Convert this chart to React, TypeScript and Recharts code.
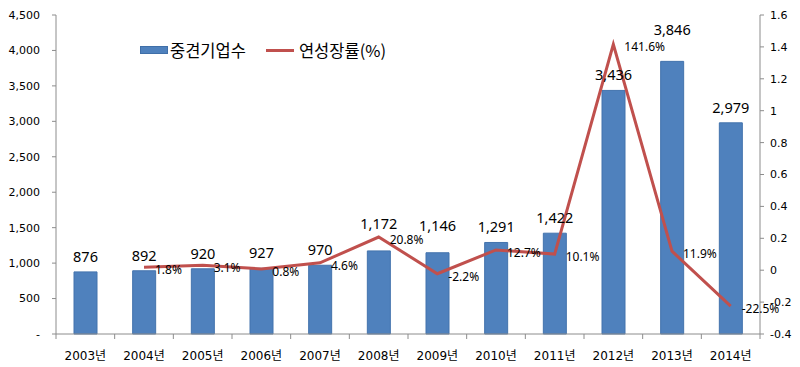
import React from 'react';
import { ComposedChart, Bar, Line, XAxis, YAxis, LabelList } from 'recharts';

const years = ['2003년', '2004년', '2005년', '2006년', '2007년', '2008년', '2009년', '2010년', '2011년', '2012년', '2013년', '2014년'];
const firms = [876, 892, 920, 927, 970, 1172, 1146, 1291, 1422, 3436, 3846, 2979];
const growth = [null, 0.018, 0.031, 0.008, 0.046, 0.208, -0.022, 0.127, 0.101, 1.416, 0.119, -0.225];
const leftTicks = [0, 500, 1000, 1500, 2000, 2500, 3000, 3500, 4000, 4500];
const rightTicks = [-0.4, -0.2, 0, 0.2, 0.4, 0.6, 0.8, 1, 1.2, 1.4, 1.6];

const data = years.map((y, i) => ({ year: y, firms: firms[i], growth: growth[i] }));

// layout
const W = 800;
const H = 367;
const LEFT_W = 56;
const RIGHT_W = 40;
const halfBand = (W - LEFT_W - RIGHT_W) / years.length / 2;
// bar labels that were nudged up in the original to clear the line
const labelLift = [0, 0, 0, 0, 0, 12, 12, 0, 0, 0, 16, 0];

const numFont = '"DejaVu Sans", "Noto Sans CJK KR", sans-serif';
const labelFont = '"Noto Sans", sans-serif';
const axisColor = '#8c8c8c';

function XTick(props: any) {
  const { x, y, payload, index } = props;
  return (
    <g>
      <line x1={x - halfBand} x2={x - halfBand} y1={y - 8} y2={y - 3} stroke={axisColor} />
      {index === years.length - 1 && (
        <line x1={x + halfBand} x2={x + halfBand} y1={y - 8} y2={y - 3} stroke={axisColor} />
      )}
      <text x={x} y={y + 18} textAnchor="middle" fontSize={12} fontFamily={numFont} fill="#000">
        {payload.value}
      </text>
    </g>
  );
}

function BarValueLabel(props: any) {
  const { x, y, width, value, index } = props;
  return (
    <text
      x={x + width / 2}
      y={y - 10 - (labelLift[index] || 0)}
      textAnchor="middle"
      fontSize={14.5}
      fontFamily={labelFont}
      fill="#000"
    >
      {Number(value).toLocaleString('en-US')}
    </text>
  );
}

function GrowthLabel(props: any) {
  const { x, y, value } = props;
  if (value == null) return null;
  return (
    <text x={x + 11} y={y + 7} fontSize={12} fontFamily={labelFont} fill="#000">
      {(value * 100).toFixed(1)}%
    </text>
  );
}

function LegendBox() {
  return (
    <div
      style={{
        position: 'absolute',
        left: 140,
        top: 39,
        display: 'flex',
        alignItems: 'center',
        fontFamily: '"Noto Sans CJK KR", sans-serif',
        fontSize: 16.5,
        lineHeight: '22px',
        color: '#000',
      }}
    >
      <span style={{ display: 'inline-block', width: 28, height: 8, background: '#4F81BD', border: '1px solid #3f6fa8', boxSizing: 'border-box', marginRight: 2 }} />
      <span>중견기업수</span>
      <span style={{ display: 'inline-block', width: 28, height: 3, background: '#C0504D', marginLeft: 20, marginRight: 5 }} />
      <span>연성장률(%)</span>
    </div>
  );
}

export default function App() {
  return (
    <div style={{ position: 'absolute', left: 0, top: 0, width: W, height: H, background: '#fff' }}>
      <ComposedChart width={W} height={H} data={data} margin={{ top: 15, right: 0, left: 0, bottom: 0 }}>
        <XAxis
          dataKey="year"
          height={33}
          tick={<XTick />}
          tickLine={false}
          stroke={axisColor}
          interval={0}
        />
        <YAxis
          yAxisId="left"
          width={LEFT_W}
          domain={[0, 4500]}
          ticks={leftTicks}
          tickSize={4}
          tickMargin={12}
          stroke={axisColor}
          tick={{ fill: '#000', fontSize: 11, fontFamily: numFont }}
          tickFormatter={(v: number) => (v === 0 ? '-' : v.toLocaleString('en-US'))}
        />
        <YAxis
          yAxisId="right"
          orientation="right"
          width={RIGHT_W}
          domain={[-0.4, 1.6]}
          ticks={rightTicks}
          tickSize={4}
          tickMargin={6}
          stroke={axisColor}
          tick={{ fill: '#000', fontSize: 11, fontFamily: numFont }}
          tickFormatter={(v: number) => String(Number(v.toFixed(1)))}
        />
        <Bar yAxisId="left" dataKey="firms" fill="#4F81BD" stroke="#4373ad" barSize={23} isAnimationActive={false}>
          <LabelList dataKey="firms" content={<BarValueLabel />} />
        </Bar>
        <Line
          yAxisId="right"
          dataKey="growth"
          type="linear"
          stroke="#C0504D"
          strokeWidth={3}
          dot={false}
          isAnimationActive={false}
        >
          <LabelList dataKey="growth" content={<GrowthLabel />} />
        </Line>
      </ComposedChart>
      <LegendBox />
    </div>
  );
}
